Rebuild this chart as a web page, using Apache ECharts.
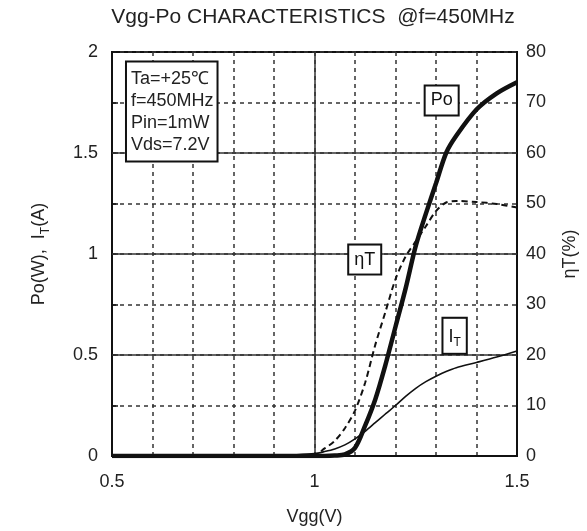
<!DOCTYPE html>
<html>
<head>
<meta charset="utf-8">
<script src="https://cdn.jsdelivr.net/npm/echarts@6/dist/echarts.min.js"></script>
<style>
  html, body { margin: 0; padding: 0; background: #fff; }
  #main { width: 587px; height: 531px; }
</style>
</head>
<body>
<div id="main"></div>
<script>
  // Vgg (V) sample points
  let vgg = [0.5, 0.6, 0.7, 0.8, 0.9, 0.95, 1.0, 1.025, 1.05, 1.075, 1.1, 1.125, 1.15, 1.175,
    1.2, 1.225, 1.25, 1.275, 1.3, 1.325, 1.35, 1.4, 1.45, 1.5];
  // Po (W)
  let po = [0, 0, 0, 0, 0, 0, 0, 0, 0.002, 0.008, 0.04, 0.15, 0.28, 0.45,
    0.64, 0.83, 1.04, 1.2, 1.35, 1.5, 1.585, 1.715, 1.795, 1.85];
  // IT (A)
  let it = [0, 0, 0, 0.001, 0.003, 0.006, 0.012, 0.022, 0.035, 0.055, 0.085, 0.122, 0.165, 0.208,
    0.25, 0.295, 0.335, 0.368, 0.395, 0.418, 0.437, 0.463, 0.49, 0.52];
  // ηT (%)
  let eta = [0, 0, 0, 0, 0, 0, 0.2, 1.5, 3, 5.5, 9, 14.5, 22, 28.5,
    35, 39.5, 42.5, 45.5, 48.5, 50.2, 50.5, 50.3, 49.9, 49.2];

  let solidX = [1.0];
  let solidY = [0.5, 1.0, 1.5];

  let font = "Liberation Sans, Arial, sans-serif";
  let ink = "#111";
  let gridInk = "#333";

  function pairs(xs, ys) {
    return xs.map((x, i) => [x, ys[i]]);
  }

  function boxLabel(text, rich) {
    return {
      show: true,
      position: "inside",
      formatter: text,
      color: ink,
      fontFamily: font,
      fontSize: 18,
      backgroundColor: "#fff",
      borderColor: ink,
      borderWidth: 2,
      padding: [6, 5, 4, 5],
      rich: rich,
    };
  }

  let chart = echarts.init(document.getElementById("main"));

  chart.setOption({
    animation: false,
    title: {
      text: "Vgg-Po CHARACTERISTICS  @f=450MHz",
      left: 308,
      textAlign: "center",
      top: 2,
      textStyle: { fontFamily: font, fontSize: 21, fontWeight: "normal", color: "#222" },
    },
    grid: {
      left: 112, right: 66, top: 52, bottom: 72,
      show: true, borderColor: ink, borderWidth: 2, backgroundColor: "transparent",
    },
    xAxis: {
      type: "value",
      min: 0.5, max: 1.5, interval: 0.1,
      name: "Vgg(V)",
      nameLocation: "middle",
      nameGap: 52,
      nameTextStyle: { fontFamily: font, fontSize: 18, color: "#222" },
      axisLine: { show: true, lineStyle: { color: ink, width: 2 } },
      axisTick: { show: false },
      axisLabel: {
        margin: 17,
        fontFamily: font, fontSize: 18, color: "#222",
        formatter: (v) => {
          let d = v * 2;
          return Math.abs(d - Math.round(d)) < 1e-6 ? String(Math.round(d) / 2) : "";
        },
      },
      splitLine: { show: true, lineStyle: { color: gridInk, width: 1.5, type: [4, 4] } },
    },
    yAxis: [
      {
        type: "value",
        min: 0, max: 2, interval: 0.25,
        name: "{a|Po(W),  I}{s|T}{a|(A)}",
        nameLocation: "middle",
        nameRotate: 90,
        nameGap: 60,
        nameTextStyle: {
          fontFamily: font, fontSize: 18, color: "#222",
          rich: {
            a: { fontFamily: font, fontSize: 18, color: "#222", lineHeight: 26, verticalAlign: "middle" },
            s: { fontFamily: font, fontSize: 12, color: "#222", lineHeight: 26, verticalAlign: "bottom" },
          },
        },
        axisLine: { show: true, lineStyle: { color: ink, width: 2 } },
        axisTick: { show: true, inside: true, length: 6, lineStyle: { color: ink, width: 1.5 } },
        axisLabel: {
          margin: 14,
          fontFamily: font, fontSize: 18, color: "#222",
          formatter: (v) => {
            let d = v * 2;
            return Math.abs(d - Math.round(d)) < 1e-6 ? String(Math.round(d) / 2) : "";
          },
        },
        splitLine: { show: true, lineStyle: { color: gridInk, width: 1.5, type: [4, 4] } },
      },
      {
        type: "value",
        min: 0, max: 80, interval: 10,
        position: "right",
        name: "ηT(%)",
        nameLocation: "middle",
        nameRotate: 90,
        nameGap: 44,
        nameTextStyle: { fontFamily: font, fontSize: 18, color: "#222" },
        axisLine: { show: true, lineStyle: { color: ink, width: 2 } },
        axisTick: { show: false },
        axisLabel: { margin: 9, fontFamily: font, fontSize: 18, color: "#222" },
        splitLine: { show: false },
      },
    ],
    series: [
      {
        name: "IT",
        type: "line",
        data: pairs(vgg, it),
        yAxisIndex: 0,
        smooth: 0.3,
        symbol: "none",
        lineStyle: { color: ink, width: 1.6 },
        z: 3,
        markLine: {
          silent: true,
          symbol: "none",
          label: { show: false },
          lineStyle: { color: gridInk, width: 1.5, type: "solid" },
          data: solidX.map((x) => ({ xAxis: x })).concat(solidY.map((y) => ({ yAxis: y }))),
          z: 1,
        },
        markPoint: {
          symbol: "rect",
          symbolSize: 0,
          silent: true,
          data: [
            {
              coord: [1.346, 0.595],
              label: boxLabel("{b|I}{s|T}", {
                b: { fontFamily: font, fontSize: 18, color: ink, lineHeight: 24, verticalAlign: "middle" },
                s: { fontFamily: font, fontSize: 12, color: ink, lineHeight: 24, verticalAlign: "bottom" },
              }),
            },
            {
              coord: [0.537, 1.705],
              label: {
                show: true,
                position: "inside",
                formatter: "Ta=+25℃\nf=450MHz\nPin=1mW\nVds=7.2V",
                color: "#222",
                fontFamily: font,
                fontSize: 18,
                lineHeight: 22,
                align: "left",
                backgroundColor: "#fff",
                borderColor: ink,
                borderWidth: 2,
                padding: [6, 3, 4, 4],
              },
            },
          ],
        },
      },
      {
        name: "ηT",
        type: "line",
        data: pairs(vgg, eta),
        yAxisIndex: 1,
        smooth: 0.3,
        symbol: "none",
        lineStyle: { color: ink, width: 2, type: [6, 4] },
        z: 3,
        markPoint: {
          symbol: "rect",
          symbolSize: 0,
          silent: true,
          data: [{ coord: [1.124, 38.9], label: boxLabel("ηT") }],
        },
      },
      {
        name: "Po",
        type: "line",
        data: pairs(vgg, po),
        yAxisIndex: 0,
        smooth: 0.3,
        symbol: "none",
        lineStyle: { color: ink, width: 4.5 },
        z: 4,
        markPoint: {
          symbol: "rect",
          symbolSize: 0,
          silent: true,
          data: [{ coord: [1.314, 1.76], label: boxLabel("Po") }],
        },
      },
    ],
  });
</script>
</body>
</html>
